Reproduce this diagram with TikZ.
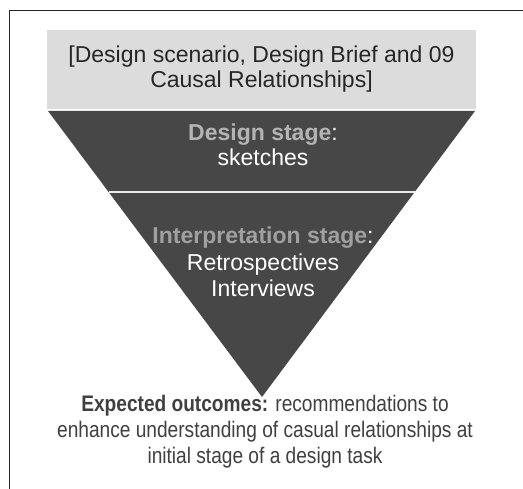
\documentclass[tikz,border=0pt]{standalone}
\usepackage{fontspec}
\setmainfont{Liberation Sans}
\newfontfamily\narrowfont[FakeStretch=0.85]{Liberation Sans}
\definecolor{boxgray}{HTML}{DCDCDC}
\definecolor{darkfill}{HTML}{474747}
\definecolor{lbl}{HTML}{B4B4B4}
\definecolor{lbltwo}{HTML}{A0A0A0}
\definecolor{outtxt}{HTML}{404040}
\begin{document}
\begin{tikzpicture}[x=1pt,y=-1pt,
  txt/.style={inner sep=0pt, align=center, text=black!85, font=\fontsize{23}{25}\selectfont},
  stagetxt/.style={inner sep=0pt, align=center, font=\fontsize{23}{25}\selectfont},
  stagetxttwo/.style={inner sep=0pt, align=center, font=\fontsize{23}{26.5}\selectfont},
  outtext/.style={inner sep=0pt, align=center, text=outtxt, font=\narrowfont\fontsize{22.5}{26}\selectfont}]
\useasboundingbox (0,0) rectangle (523,489);
\fill[white] (0,0) rectangle (523,489);
% frame
\draw[line width=0.8pt, black!85] (9,489) -- (9,10) -- (523,10);
% top box
\fill[boxgray] (47,30) rectangle (476,109);
\node[txt] (top) at (261.5,69) {[Design scenario, Design Brief and 09\\Causal Relationships]};
% triangle
\coordinate (tl) at (48,111);
\coordinate (tr) at (475,111);
\coordinate (tip) at (262,397);
\fill[darkfill] (tl) -- (tr) -- (tip) -- cycle;
\coordinate (sl) at (109,192);
\coordinate (sr) at (415,192);
\draw[white!85!gray, line width=1.5pt] (sl) -- (sr);
\node[stagetxt] (design) at (263,145) {\textbf{\textcolor{lbl}{Design stage}}\textcolor{white}{:}\\\textcolor{white}{sketches}};
\node[stagetxttwo] (interp) at (263,262) {\textbf{\textcolor{lbltwo}{Interpretation stage}}\textcolor{white}{:}\\\textcolor{white}{Retrospectives}\\\textcolor{white}{Interviews}};
\node[outtext] (out) at (265,432) {\textbf{Expected outcomes:} recommendations to\\enhance understanding of casual relationships at\\initial stage of a design task};
\end{tikzpicture}
\end{document}
